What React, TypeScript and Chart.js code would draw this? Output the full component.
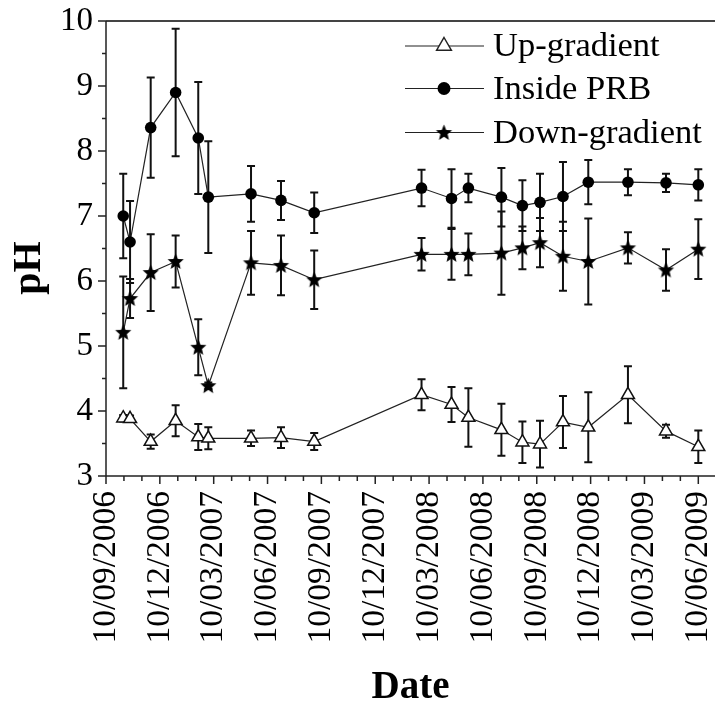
import React, { useEffect, useRef } from "react";
import { Chart, registerables } from "chart.js";

Chart.register(...registerables);

// x = months elapsed since 10/09/2006
const sampleMonths = [0.96, 1.34, 2.49, 3.88, 5.14, 5.7, 8.08, 9.75, 11.6, 17.58, 19.25, 20.19, 22.03, 23.2, 24.18, 25.46, 26.87, 29.08, 31.2, 33.0];

const dateTickLabels = [
  "10/09/2006", "10/12/2006", "10/03/2007", "10/06/2007", "10/09/2007", "10/12/2007",
  "10/03/2008", "10/06/2008", "10/09/2008", "10/12/2008", "10/03/2009", "10/06/2009",
];

const seriesNames = ["Up-gradient", "Inside PRB", "Down-gradient"];

const upGradient = [3.89, 3.88, 3.53, 3.85, 3.6, 3.58, 3.58, 3.59, 3.53, 4.25, 4.1, 3.9, 3.71, 3.52, 3.49, 3.83, 3.75, 4.25, 3.69, 3.45];
const upGradientSd = [0.05, 0.05, 0.11, 0.24, 0.2, 0.17, 0.12, 0.16, 0.13, 0.24, 0.27, 0.45, 0.4, 0.32, 0.36, 0.4, 0.54, 0.44, 0.1, 0.25];

const insidePrb = [7.0, 6.6, 8.36, 8.9, 8.2, 7.29, 7.34, 7.24, 7.05, 7.43, 7.27, 7.43, 7.29, 7.16, 7.21, 7.3, 7.52, 7.52, 7.51, 7.48];
const insidePrbSd = [0.65, 0.63, 0.77, 0.98, 0.86, 0.86, 0.43, 0.3, 0.31, 0.28, 0.45, 0.22, 0.45, 0.39, 0.44, 0.53, 0.34, 0.2, 0.14, 0.24];

const downGradient = [5.21, 5.73, 6.13, 6.3, 4.98, 4.39, 6.28, 6.24, 6.02, 6.41, 6.41, 6.41, 6.43, 6.51, 6.59, 6.38, 6.3, 6.51, 6.17, 6.49];
const downGradientSd = [0.86, 0.3, 0.59, 0.4, 0.43, 0.05, 0.49, 0.46, 0.45, 0.25, 0.39, 0.32, 0.64, 0.33, 0.38, 0.53, 0.66, 0.24, 0.32, 0.46];

const yTickValues = [3, 4, 5, 6, 7, 8, 9, 10];
const yTitle = "pH";
const xTitle = "Date";

const FONT = '"Liberation Serif", "Times New Roman", serif';

function makeStar(outer: number, inner: number): HTMLCanvasElement {
  const size = Math.ceil(outer * 2 + 2);
  const c = document.createElement("canvas");
  c.width = size;
  c.height = size;
  const g = c.getContext("2d")!;
  g.translate(size / 2, size / 2 + 0.5);
  g.beginPath();
  for (let i = 0; i < 10; i++) {
    const r = i % 2 ? inner : outer;
    const a = -Math.PI / 2 + (i * Math.PI) / 5;
    g.lineTo(r * Math.cos(a), r * Math.sin(a));
  }
  g.closePath();
  g.fillStyle = "#000";
  g.fill();
  return c;
}

export default function App() {
  const ref = useRef<HTMLCanvasElement | null>(null);

  useEffect(() => {
    if (!ref.current) return;
    const star = makeStar(8.5, 3.8);
    const legendStar = makeStar(8.5, 3.8);

    const sds = [upGradientSd, insidePrbSd, downGradientSd];
    const values = [upGradient, insidePrb, downGradient];

    const errorBars = {
      id: "errorBars",
      beforeDatasetsDraw(chart: any) {
        const { ctx, scales } = chart;
        const x = scales.x, y = scales.y;
        ctx.save();
        ctx.strokeStyle = "#111";
        ctx.lineWidth = 2;
        values.forEach((vals, i) => {
          vals.forEach((v, j) => {
            const px = x.getPixelForValue(sampleMonths[j]);
            const t = y.getPixelForValue(v + sds[i][j]);
            const b = y.getPixelForValue(v - sds[i][j]);
            ctx.beginPath();
            ctx.moveTo(px, t);
            ctx.lineTo(px, b);
            ctx.moveTo(px - 4, t);
            ctx.lineTo(px + 4, t);
            ctx.moveTo(px - 4, b);
            ctx.lineTo(px + 4, b);
            ctx.stroke();
          });
        });
        ctx.restore();
      },
    };

    const frame = {
      id: "frame",
      afterDraw(chart: any) {
        const { ctx, chartArea, scales } = chart;
        const x = scales.x, y = scales.y;
        const { left, right, top, bottom } = chartArea;
        ctx.save();
        ctx.strokeStyle = "#444";
        ctx.lineWidth = 2;
        ctx.beginPath();
        ctx.moveTo(left, top);
        ctx.lineTo(right, top);
        ctx.stroke();
        ctx.strokeStyle = "#222";
        ctx.lineWidth = 1.5;
        ctx.beginPath();
        ctx.moveTo(left, top);
        ctx.lineTo(left, bottom);
        ctx.lineTo(right, bottom);
        // x ticks: minor monthly, major quarterly
        for (let m = 0; m <= 33; m++) {
          const px = x.getPixelForValue(m);
          const len = m % 3 === 0 ? 8 : 5;
          ctx.moveTo(px, bottom);
          ctx.lineTo(px, bottom + len);
        }
        // y ticks: major integer, minor half
        for (let k = 0; k <= 14; k++) {
          const v = 3 + k * 0.5;
          const py = y.getPixelForValue(v);
          const len = k % 2 === 0 ? 8 : 4;
          ctx.moveTo(left, py);
          ctx.lineTo(left - len, py);
        }
        ctx.stroke();

        // y axis title
        ctx.save();
        ctx.translate(30, 268);
        ctx.rotate(-Math.PI / 2);
        ctx.font = `bold 40px ${FONT}`;
        ctx.fillStyle = "#000";
        ctx.textAlign = "center";
        ctx.textBaseline = "middle";
        ctx.fillText(yTitle, 0, 0);
        ctx.restore();

        // legend
        const rows = [46, 88.5, 132.5];
        const lx0 = 405, lx1 = 484, mx = 444, tx = 493;
        ctx.font = `34.5px ${FONT}`;
        ctx.fillStyle = "#000";
        ctx.textBaseline = "middle";
        ctx.textAlign = "left";
        rows.forEach((ry, i) => {
          ctx.strokeStyle = "#222";
          ctx.lineWidth = 1.2;
          ctx.beginPath();
          ctx.moveTo(lx0, ry);
          ctx.lineTo(lx1, ry);
          ctx.stroke();
          if (i === 0) {
            const r = 8.5;
            ctx.beginPath();
            ctx.moveTo(mx, ry - r);
            ctx.lineTo(mx + r * 0.866, ry + r / 2);
            ctx.lineTo(mx - r * 0.866, ry + r / 2);
            ctx.closePath();
            ctx.fillStyle = "#fff";
            ctx.fill();
            ctx.lineWidth = 1.5;
            ctx.stroke();
          } else if (i === 1) {
            ctx.beginPath();
            ctx.arc(mx, ry, 6.5, 0, Math.PI * 2);
            ctx.fillStyle = "#000";
            ctx.fill();
          } else {
            ctx.drawImage(legendStar, mx - legendStar.width / 2, ry - legendStar.height / 2);
          }
          ctx.fillStyle = "#000";
          ctx.fillText(seriesNames[i], tx, ry + 1);
        });
        ctx.restore();
      },
    };

    const mk = (vals: number[]) => vals.map((v, j) => ({ x: sampleMonths[j], y: v }));

    const chart = new Chart(ref.current, {
      type: "line",
      data: {
        datasets: [
          {
            label: seriesNames[0],
            data: mk(upGradient),
            borderColor: "#222",
            borderWidth: 1.2,
            pointStyle: "triangle",
            pointRadius: 7.5,
            pointBackgroundColor: "#fff",
            pointBorderColor: "#111",
            pointBorderWidth: 1.5,
            tension: 0,
          },
          {
            label: seriesNames[1],
            data: mk(insidePrb),
            borderColor: "#222",
            borderWidth: 1.2,
            pointStyle: "circle",
            pointRadius: 5.8,
            pointBackgroundColor: "#000",
            pointBorderColor: "#000",
            pointBorderWidth: 0,
            tension: 0,
          },
          {
            label: seriesNames[2],
            data: mk(downGradient),
            borderColor: "#222",
            borderWidth: 1.2,
            pointStyle: star as any,
            pointRadius: 8,
            tension: 0,
          },
        ],
      },
      options: {
        responsive: false,
        animation: false,
        layout: { autoPadding: false, padding: { top: 21, right: 0, left: 0, bottom: 0 } },
        plugins: { legend: { display: false }, tooltip: { enabled: false } },
        scales: {
          x: {
            type: "linear",
            min: 0,
            max: 33.93,
            grid: { display: false, drawTicks: false },
            border: { display: false },
            afterBuildTicks: (s: any) => {
              s.ticks = dateTickLabels.map((_, i) => ({ value: i * 3 }));
            },
            afterFit: (s: any) => {
              s.height = 228;
              s.paddingLeft = 0;
              s.paddingRight = 0;
            },
            ticks: {
              autoSkip: false,
              maxRotation: 90,
              minRotation: 90,
              padding: 15,
              color: "#000",
              font: { family: FONT, size: 33.5, lineHeight: 1 },
              callback: (_v: any, i: number) => dateTickLabels[i],
            },
            title: {
              display: true,
              text: xTitle,
              color: "#000",
              font: { family: FONT, size: 39, weight: "bold", lineHeight: 1 },
              padding: { top: 0, bottom: -3 },
            },
          },
          y: {
            type: "linear",
            min: 3,
            max: 10,
            grid: { display: false, drawTicks: false },
            border: { display: false },
            afterBuildTicks: (s: any) => {
              s.ticks = yTickValues.map((v) => ({ value: v }));
            },
            afterFit: (s: any) => {
              s.width = 106;
              s.paddingTop = 0;
              s.paddingBottom = 0;
            },
            ticks: {
              padding: 13,
              color: "#000",
              font: { family: FONT, size: 33, lineHeight: 1 },
            },
            title: { display: false },
          },
        },
      },
      plugins: [errorBars, frame],
    });

    return () => chart.destroy();
  }, []);

  return (
    <div style={{ position: "absolute", left: 0, top: 0, width: 715, height: 704 }}>
      <canvas ref={ref} width={715} height={704} />
    </div>
  );
}
